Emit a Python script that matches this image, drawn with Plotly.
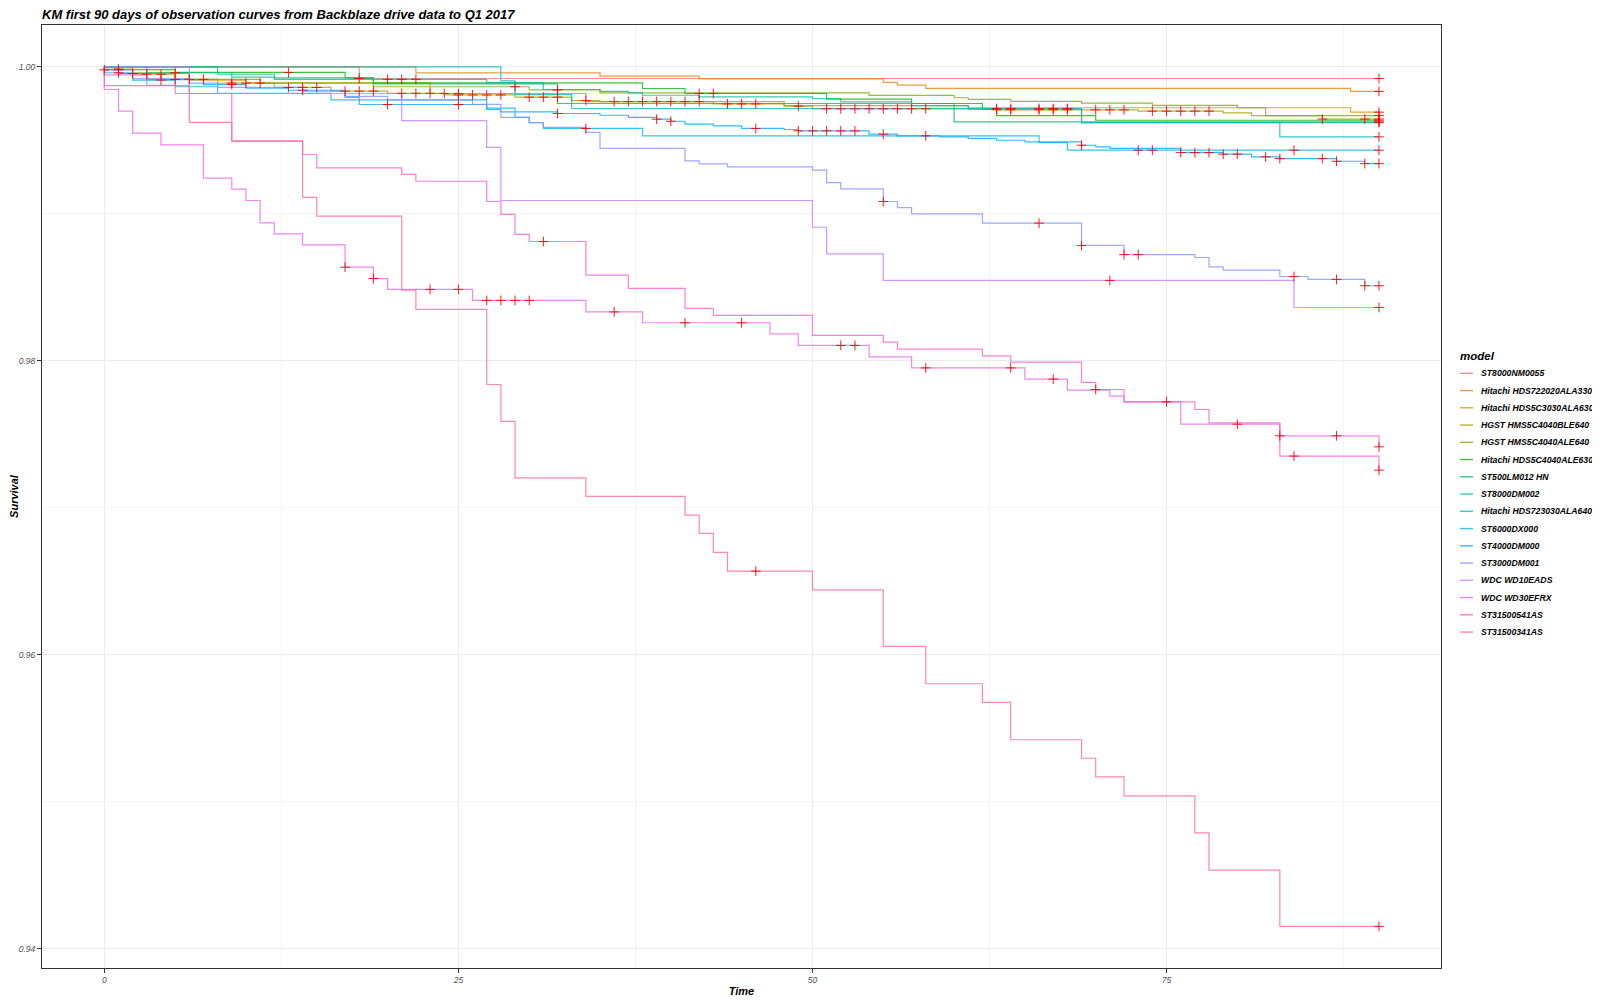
import plotly.graph_objects as go

# model order as in the legend
models = ["ST8000NM0055", "Hitachi HDS722020ALA330", "Hitachi HDS5C3030ALA630",
          "HGST HMS5C4040BLE640", "HGST HMS5C4040ALE640", "Hitachi HDS5C4040ALE630",
          "ST500LM012 HN", "ST8000DM002", "Hitachi HDS723030ALA640", "ST6000DX000",
          "ST4000DM000", "ST3000DM001", "WDC WD10EADS", "WDC WD30EFRX",
          "ST31500541AS", "ST31500341AS"]
colors = ["#F8766D", "#E68613", "#CD9600", "#ABA300", "#7CAE00", "#0CB702",
          "#00BE67", "#00C19A", "#00BFC4", "#00B8E7", "#00A9FF", "#8494FF",
          "#C77CFF", "#ED68ED", "#FF61CC", "#FF68A1"]

# event times (day), survival after each event, censoring times
st8000nm_t = [18]
st8000nm_s = [0.99921]
st8000nm_c = [18, 90]

hds722020_t = [22, 35, 42, 55, 56, 58, 88]
hds722020_s = [0.99959, 0.99937, 0.99919, 0.99894, 0.99876, 0.99854, 0.99833]
hds722020_c = [90]

hds5c3030_t = [1, 6, 10, 23, 34, 48, 61, 88]
hds5c3030_s = [0.99955, 0.9991, 0.99891, 0.99819, 0.99764, 0.99737, 0.99722, 0.99692]
hds5c3030_c = [24, 25, 90]

ble640_t = [0, 2, 5, 8, 12, 16, 20, 24, 29, 33, 35, 43, 48, 50, 63, 73, 79, 81, 86]
ble640_s = [0.99985, 0.9995, 0.99915, 0.9989, 0.9986, 0.99835, 0.9982, 0.99809, 0.99794,
            0.99771, 0.99764, 0.99748, 0.99733, 0.99715, 0.99708, 0.99699, 0.99687,
            0.99669, 0.99645]
ble640_c = [1, 3, 4, 6, 7, 9, 10, 11, 13, 14, 15, 17, 18, 19, 21, 22, 23, 25, 26, 27, 28,
            30, 31, 32, 34, 36, 37, 38, 39, 40, 41, 42, 44, 45, 46, 49, 51, 52, 53, 54, 55,
            56, 57, 58, 63, 64, 66, 67, 68, 70, 71, 72, 74, 75, 76, 77, 78, 86, 89, 90]

ale640_t = [2, 6, 11, 19, 30, 35, 54, 60, 61, 64, 69, 74, 80, 82]
ale640_s = [0.9996, 0.99915, 0.9989, 0.99865, 0.99843, 0.99823, 0.99806, 0.9979, 0.99779,
            0.99765, 0.99754, 0.99738, 0.99722, 0.99669]
ale640_c = [5, 29, 32, 90]

hds5c4040_t = [1, 5, 17, 19, 38, 41, 51, 57, 62, 63, 70]
hds5c4040_s = [0.99982, 0.99962, 0.99925, 0.99891, 0.99853, 0.99819, 0.9978, 0.99751,
               0.9971, 0.99669, 0.99637]
hds5c4040_c = [13, 42, 43, 90]

st500lm_t = [8, 12, 19, 32, 60]
st500lm_s = [0.9995, 0.99925, 0.99884, 0.99751, 0.99626]
st500lm_c = [90]

st8000dm_t = [3, 9, 12, 27, 31, 35, 37, 38, 42, 50, 52, 57, 61, 69]
st8000dm_s = [0.9996, 0.9993, 0.99915, 0.99893, 0.99846, 0.99833, 0.99823, 0.99807,
              0.99796, 0.99785, 0.99762, 0.99737, 0.99713, 0.99621]
st8000dm_c = [20, 21, 22, 90]

hds723030_t = [28, 29, 33, 69, 83]
hds723030_s = [0.99905, 0.99811, 0.99717, 0.99621, 0.99524]
hds723030_c = [63, 64, 66, 67, 68, 90]

st6000_t = [0, 2, 5, 8, 16, 27, 29, 30, 31, 38, 66, 68]
st6000_s = [0.9996, 0.9991, 0.99865, 0.9982, 0.99775, 0.9972, 0.99656, 0.9962, 0.99581,
            0.99531, 0.99485, 0.99433]
st6000_c = [1, 4, 34, 73, 74, 84, 90]

st4000_t = [0, 1, 3, 7, 10, 13, 17, 18, 27, 28, 32, 35, 37, 39, 40, 41, 43, 45, 48, 49,
            54, 56, 59, 61, 63, 65, 69, 70, 71, 76, 79, 81, 83, 87, 89]
st4000_s = [0.9998, 0.99955, 0.99914, 0.9988, 0.99855, 0.99841, 0.99792, 0.99744, 0.9971,
            0.99694, 0.99683, 0.99671, 0.99656, 0.99644, 0.9963, 0.9961, 0.99599, 0.99581,
            0.99574, 0.99565, 0.99542, 0.99531, 0.99524, 0.99513, 0.99501, 0.9949, 0.99467,
            0.99456, 0.99445, 0.99417, 0.99406, 0.99388, 0.99376, 0.99358, 0.99342]
st4000_c = [0, 2, 5, 9, 14, 20, 25, 32, 39, 40, 46, 49, 50, 51, 52, 53, 55, 58, 69, 76, 77,
            78, 79, 80, 82, 83, 86, 87, 89, 90]

st3000_t = [0, 2, 6, 8, 14, 17, 20, 26, 28, 30, 31, 34, 35, 41, 42, 44, 50, 51, 52, 55, 56,
            57, 62, 69, 72, 77, 78, 79, 83, 85, 89]
st3000_s = [0.9998, 0.9992, 0.9989, 0.9986, 0.99835, 0.998, 0.99775, 0.99745, 0.99656,
            0.9962, 0.99588, 0.99554, 0.99445, 0.99361, 0.9934, 0.9932, 0.99297, 0.99213,
            0.9917, 0.99084, 0.99043, 0.99, 0.98937, 0.98785, 0.98723, 0.98703, 0.9864,
            0.98617, 0.98574, 0.98554, 0.98511]
st3000_c = [1, 55, 66, 69, 72, 73, 84, 87, 89, 90]

wd10eads_t = [6, 21, 27, 28, 50, 51, 55, 84]
wd10eads_s = [0.99819, 0.99635, 0.99452, 0.99091, 0.98909, 0.98728, 0.98547, 0.98363]
wd10eads_c = [71, 90]

wd30efrx_t = [0, 1, 2, 4, 7, 9, 10, 11, 12, 14, 17, 19, 20, 26, 34, 38, 47, 49, 54, 57, 65,
              68, 71, 72, 76, 83, 90]
wd30efrx_s = [0.99846, 0.99699, 0.99549, 0.9947, 0.99243, 0.99168, 0.99091, 0.98939,
              0.98864, 0.98789, 0.98637, 0.9856, 0.98486, 0.98411, 0.98333, 0.98259,
              0.98184, 0.98105, 0.98027, 0.97952, 0.97876, 0.97801, 0.9776, 0.97721,
              0.97569, 0.9749, 0.97415]
wd30efrx_c = [17, 19, 23, 25, 27, 28, 29, 30, 36, 41, 45, 52, 53, 58, 64, 67, 75, 80, 83,
              87, 90]

st541_t = [0, 3, 5, 9, 14, 15, 21, 22, 27, 28, 29, 30, 34, 37, 41, 43, 50, 55, 56, 62, 64,
           69, 70, 72, 77, 78, 83, 90]
st541_s = [0.99945, 0.99875, 0.99819, 0.99495, 0.99404, 0.99313, 0.99268, 0.99222,
           0.99084, 0.98996, 0.9886, 0.98812, 0.98583, 0.98493, 0.98357, 0.98309, 0.98173,
           0.98127, 0.9808, 0.98034, 0.97991, 0.97853, 0.97805, 0.97721, 0.97669, 0.97578,
           0.97352, 0.97256]
st541_c = [31, 70, 84, 90]

st341_t = [0, 6, 9, 14, 15, 21, 22, 27, 28, 29, 34, 41, 42, 43, 44, 50, 55, 58, 62, 64, 69,
           70, 72, 77, 78, 83]
st341_s = [0.99873, 0.99622, 0.99495, 0.99112, 0.98984, 0.98481, 0.9835, 0.97839, 0.97588,
           0.97204, 0.97078, 0.9695, 0.96826, 0.96697, 0.96569, 0.96442, 0.96057, 0.95803,
           0.95676, 0.95422, 0.95296, 0.95169, 0.9504, 0.94788, 0.94535, 0.94152]
st341_c = [46, 90]

series = [
    (st8000nm_t, st8000nm_s, st8000nm_c),
    (hds722020_t, hds722020_s, hds722020_c),
    (hds5c3030_t, hds5c3030_s, hds5c3030_c),
    (ble640_t, ble640_s, ble640_c),
    (ale640_t, ale640_s, ale640_c),
    (hds5c4040_t, hds5c4040_s, hds5c4040_c),
    (st500lm_t, st500lm_s, st500lm_c),
    (st8000dm_t, st8000dm_s, st8000dm_c),
    (hds723030_t, hds723030_s, hds723030_c),
    (st6000_t, st6000_s, st6000_c),
    (st4000_t, st4000_s, st4000_c),
    (st3000_t, st3000_s, st3000_c),
    (wd10eads_t, wd10eads_s, wd10eads_c),
    (wd30efrx_t, wd30efrx_s, wd30efrx_c),
    (st541_t, st541_s, st541_c),
    (st341_t, st341_s, st341_c),
]
end_time = 90


def surv_at(times, surv, t):
    s = 1.0
    for ti, si in zip(times, surv):
        if ti <= t:
            s = si
    return s


FONT = "Liberation Sans"
W, H = 1600, 1000
OFF = 8  # the page body adds an 8px margin, so pull everything up-left
ML, MT = 42 - OFF, 25 - OFF
MR, MB = W - (1441 - OFF), H - (968 - OFF)


def px_x(px):  # target pixel -> paper x
    return (px - OFF - ML) / (W - ML - MR)


def px_y(py):  # target pixel -> paper y
    return (H - MB - (py - OFF)) / (H - MT - MB)


fig = go.Figure()

for name, col, (t, s, c) in zip(models, colors, series):
    fig.add_trace(go.Scatter(
        x=[0] + t + [end_time], y=[1.0] + s + [s[-1]],
        mode="lines", name=name, opacity=0.8, showlegend=False,
        line=dict(color=col, width=1.2, shape="hv"),
    ))

for name, (t, s, c) in zip(models, series):
    fig.add_trace(go.Scatter(
        x=c, y=[surv_at(t, s, ci) for ci in c],
        mode="markers", showlegend=False, hoverinfo="skip",
        marker=dict(symbol="cross-thin", size=7, line=dict(color="rgba(255,0,0,0.9)", width=1)),
    ))

# legend drawn by hand so it matches the compact ggplot key
shapes = []
annotations = [dict(text="model", xref="paper", yref="paper", x=px_x(1458), y=px_y(356),
                    xanchor="left", yanchor="middle", showarrow=False,
                    font=dict(family=FONT, size=11.5, color="black", weight="bold",
                              style="italic"))]
for i, (name, col) in enumerate(zip(models, colors)):
    yy = px_y(373.3 + 17.25 * i)
    shapes.append(dict(type="line", xref="paper", yref="paper", x0=px_x(1460), x1=px_x(1473),
                       y0=yy, y1=yy, opacity=0.8, line=dict(color=col, width=1.4)))
    annotations.append(dict(text=name, xref="paper", yref="paper", x=px_x(1478.5), y=yy,
                            xanchor="left", yanchor="middle", showarrow=False,
                            font=dict(family=FONT, size=8.7, color="black", weight="bold",
                                      style="italic")))

fig.update_layout(
    width=W, height=H,
    paper_bgcolor="white", plot_bgcolor="white",
    margin=dict(l=ML, r=MR, t=MT, b=MB),
    showlegend=False,
    title=dict(text="KM first 90 days of observation curves from Backblaze drive data to Q1 2017",
               x=(42 - OFF) / W, xanchor="left", y=1 - 2 / H, yanchor="top",
               pad=dict(t=0, b=0, l=0, r=0),
               font=dict(family=FONT, size=13, color="black", weight="bold", style="italic")),
    shapes=shapes,
    annotations=annotations,
)

fig.update_xaxes(
    range=[-4.40, 94.38], tick0=0, dtick=25, showgrid=True, gridcolor="#EBEBEB", gridwidth=1,
    minor=dict(dtick=12.5, showgrid=True, gridcolor="#F4F4F4", gridwidth=0.7),
    zeroline=False, showline=True, linecolor="#333333", linewidth=1, mirror=True,
    ticks="outside", ticklen=4, tickcolor="#333333", automargin=False,
    tickfont=dict(family=FONT, size=8.5, color="#4D4D4D", style="italic"),
    title=dict(text="Time", standoff=3,
               font=dict(family=FONT, size=11, color="black", weight="bold", style="italic")),
)
fig.update_yaxes(
    range=[0.93869, 1.00285], tick0=0.94, dtick=0.02, tickformat=".2f",
    showgrid=True, gridcolor="#EBEBEB", gridwidth=1,
    minor=dict(dtick=0.01, showgrid=True, gridcolor="#F4F4F4", gridwidth=0.7),
    zeroline=False, showline=True, linecolor="#333333", linewidth=1, mirror=True,
    ticks="outside", ticklen=4, tickcolor="#333333", automargin=False,
    tickfont=dict(family=FONT, size=8.5, color="#4D4D4D", style="italic"),
    title=dict(text="Survival", standoff=4,
               font=dict(family=FONT, size=11, color="black", weight="bold", style="italic")),
)

fig.write_html("out.html")
